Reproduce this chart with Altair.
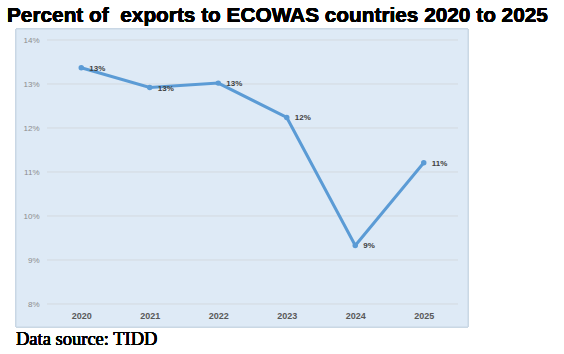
import altair as alt
import pandas as pd

years = ["2020", "2021", "2022", "2023", "2024", "2025"]
shares = [13.37, 12.92, 13.02, 12.24, 9.33, 11.21]
point_labels = ["13%", "13%", "13%", "12%", "9%", "11%"]
y_ticks = [8, 9, 10, 11, 12, 13, 14]
title_text = "Percent of\u00a0 exports to ECOWAS countries 2020 to 2025"
source_text = "Data source: TIDD"

df = pd.DataFrame({"year": years, "share": shares, "label": point_labels})
grid_df = pd.DataFrame({"tick": y_ticks})

W, H = 411, 264
LINE = "#5b9bd5"
yscale = alt.Scale(domain=[8, 14], nice=False, zero=False)

x_enc = alt.X(
    "year:O",
    scale=alt.Scale(type="point", padding=0.5),
    axis=alt.Axis(
        title=None, labelAngle=0, ticks=False, domain=False, labelPadding=7,
        labelFont="Liberation Sans", labelFontSize=9, labelFontWeight="bold",
        labelColor="#595959", grid=False, zindex=1,
    ),
)
y_enc = alt.Y(
    "share:Q",
    scale=yscale,
    axis=alt.Axis(
        title=None, values=y_ticks, labelExpr="datum.value + '%'", ticks=False,
        domain=False, labelPadding=8, labelFont="Liberation Sans", labelFontSize=8,
        labelColor="#8c8c8c", grid=False, zindex=1,
    ),
)

bg = alt.Chart(df).mark_rect(fill="#deeaf6", stroke="#c9d7e4", strokeWidth=1).encode(
    x=alt.value(-31), x2=alt.value(421), y=alt.value(-11), y2=alt.value(287)
)

grid = alt.Chart(grid_df).mark_rule(color="#d3d9df", strokeWidth=1).encode(
    y=alt.Y("tick:Q", scale=yscale), x=alt.value(0), x2=alt.value(W)
)

line = alt.Chart(df).mark_line(color=LINE, strokeWidth=3).encode(x=x_enc, y=y_enc)
pts = alt.Chart(df).mark_circle(color=LINE, size=30, opacity=1).encode(x="year:O", y="share:Q")
lbl = alt.Chart(df).mark_text(
    align="left", baseline="middle", dx=8, dy=1, font="Liberation Sans",
    fontSize=8, fontWeight="bold", color="#404040"
).encode(x="year:O", y="share:Q", text="label:N")

title = alt.Chart(df).mark_text(
    align="left", baseline="alphabetic", font="Liberation Sans", fontSize=20.8,
    fontWeight="bold", color="#000000"
).encode(x=alt.value(-40), y=alt.value(-18), text=alt.value(title_text))

source = alt.Chart(df).mark_text(
    align="left", baseline="alphabetic", font="Liberation Serif", fontSize=18.5,
    fontWeight="normal", color="#000000"
).encode(x=alt.value(-31), y=alt.value(305), text=alt.value(source_text))

chart = alt.layer(bg, grid, line, pts, lbl, title, source).properties(
    width=W, height=H,
    autosize=alt.AutoSizeParams(type="none"),
    padding={"left": 47, "top": 40, "right": 106, "bottom": 50},
    background="white",
).configure_view(stroke=None)

chart.save("out.html", embed_options={"renderer": "svg", "actions": False})
